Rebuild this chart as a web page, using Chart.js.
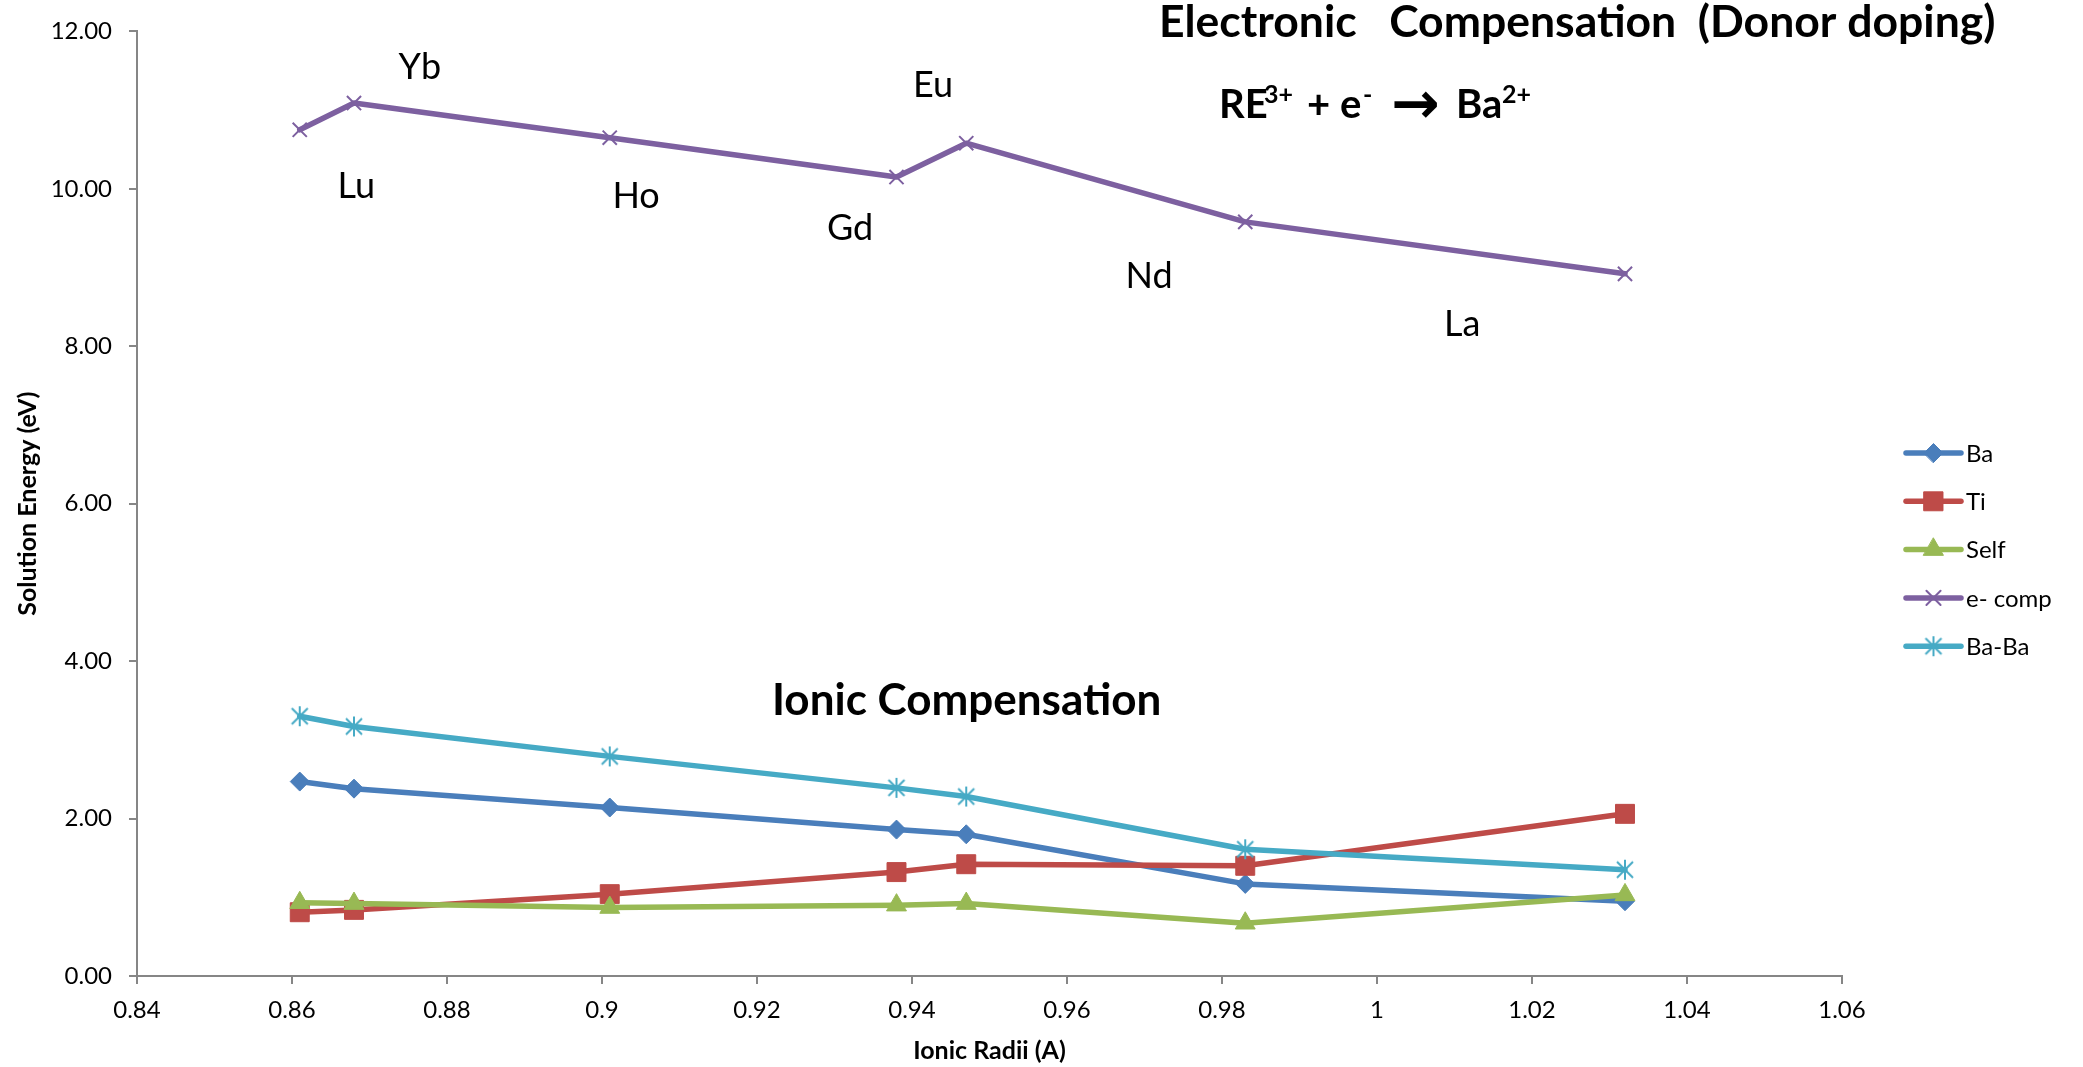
<!DOCTYPE html>
<html>
<head>
<meta charset="utf-8">
<title>Solution Energy x Ionic Radii</title>
<script src="https://cdn.jsdelivr.net/npm/chart.js@4.4.1/dist/chart.umd.min.js"></script>
<style>
    html, body { margin: 0; padding: 0; background: #ffffff; }
    #wrap { width: 2083px; height: 1067px; }
</style>
</head>
<body>
<div id="wrap"><canvas id="grafico" width="2083" height="1067"></canvas></div>
<script>
// ionic radii (A) of the rare earth dopants
var radii = [0.861, 0.868, 0.901, 0.938, 0.947, 0.983, 1.032];
var elementos = ['Lu', 'Yb', 'Ho', 'Gd', 'Eu', 'Nd', 'La'];

// solution energies (eV), one array per scheme
var ba = [2.47, 2.38, 2.14, 1.86, 1.80, 1.17, 0.95];
var ti = [0.81, 0.84, 1.04, 1.32, 1.42, 1.40, 2.06];
var selfComp = [0.93, 0.92, 0.87, 0.90, 0.92, 0.67, 1.03];
var eComp = [10.75, 11.09, 10.65, 10.15, 10.58, 9.58, 8.92];
var baBa = [3.30, 3.17, 2.79, 2.39, 2.28, 1.61, 1.35];

var xTicks = [0.84, 0.86, 0.88, 0.90, 0.92, 0.94, 0.96, 0.98, 1.00, 1.02, 1.04, 1.06];
var yTicks = [0, 2, 4, 6, 8, 10, 12];

// where each element name is written (data units)
var nomeX = [0.8683, 0.8765, 0.9044, 0.9320, 0.9427, 0.9706, 1.0110];
var nomeY = [10.03, 11.54, 9.91, 9.50, 11.32, 8.89, 8.28];

var FONTE = 'Lato, "DejaVu Sans", sans-serif';

function pontos(ys) {
    var ret = [];
    for (var i = 0; i < radii.length; i++) {
        ret.push({ x: radii[i], y: ys[i] });
    }
    return ret;
}

// excel style asterisk marker (vertical bar + X)
function estrela(cor, r, lw) {
    var c = document.createElement('canvas');
    var s = Math.ceil(2 * r + lw * 2);
    c.width = s;
    c.height = s;
    var g = c.getContext('2d');
    var m = s / 2, d = r * 0.8;
    g.strokeStyle = cor;
    g.lineWidth = lw;
    g.beginPath();
    g.moveTo(m, m - r); g.lineTo(m, m + r);
    g.moveTo(m - d, m - d); g.lineTo(m + d, m + d);
    g.moveTo(m - d, m + d); g.lineTo(m + d, m - d);
    g.stroke();
    return c;
}

function serie(nome, ys, cor, estilo, raio, bw, ordem) {
    return {
        label: nome,
        data: pontos(ys),
        showLine: true,
        borderColor: cor,
        backgroundColor: cor,
        borderWidth: 5.5,
        borderJoinStyle: 'round',
        borderCapStyle: 'round',
        pointStyle: estilo,
        pointRadius: raio,
        pointBackgroundColor: cor,
        pointBorderColor: cor,
        pointBorderWidth: bw,
        order: ordem
    };
}

var series = [
    serie('Ba', ba, '#4a7ebb', 'rectRot', 9.5, 1, 4),
    serie('Ti', ti, '#be4b48', 'rect', 13.4, 1, 3),
    serie('Self', selfComp, '#98b954', 'triangle', 11.5, 1, 2),
    serie('e- comp', eComp, '#7d60a0', 'crossRot', 10, 2, 1),
    serie('Ba-Ba', baBa, '#46aac5', estrela('#46aac5', 10, 2), 10, 2, 0)
];

function marcador(ctx, ds, x, y) {
    ctx.save();
    ctx.fillStyle = ds.pointBackgroundColor;
    ctx.strokeStyle = ds.pointBorderColor;
    ctx.lineWidth = ds.pointBorderWidth;
    Chart.helpers.drawPoint(ctx, {
        pointStyle: ds.pointStyle,
        rotation: 0,
        radius: ds.pointRadius,
        borderWidth: ds.pointBorderWidth
    }, x, y);
    ctx.restore();
}

// each piece of the reaction sits at its own x, superscripts raised
function formula(ctx, y, partes) {
    for (var i = 0; i < partes.length; i++) {
        var p = partes[i];
        var py = y;
        if (p.seta) {
            ctx.font = 'bold 58px "DejaVu Sans", sans-serif';
            py = y + 5;
        } else if (p.sup) {
            ctx.font = 'bold 25px ' + FONTE;
            py = y - 15;
        } else {
            ctx.font = 'bold 40px ' + FONTE;
        }
        ctx.fillText(p.t, p.x, py);
    }
}

var textos = {
    id: 'textos',
    afterDraw: function(chart) {
        var ctx = chart.ctx;
        var sx = chart.scales.x, sy = chart.scales.y;
        ctx.save();
        ctx.fillStyle = '#000000';

        // element names along the e- comp line
        ctx.font = '36px ' + FONTE;
        ctx.textAlign = 'center';
        ctx.textBaseline = 'middle';
        for (var i = 0; i < elementos.length; i++) {
            ctx.fillText(elementos[i], sx.getPixelForValue(nomeX[i]), sy.getPixelForValue(nomeY[i]));
        }

        ctx.textAlign = 'left';
        ctx.textBaseline = 'alphabetic';
        ctx.font = 'bold 44.5px ' + FONTE;
        ctx.fillText('Electronic   Compensation  (Donor doping)', 1159, 37);
        ctx.font = 'bold 44px ' + FONTE;
        ctx.fillText('Ionic Compensation', 772, 715);

        formula(ctx, 118, [
            { t: 'RE', x: 1219 }, { t: '3+', x: 1264, sup: true }, { t: '+', x: 1307 },
            { t: 'e', x: 1340 }, { t: '-', x: 1363, sup: true }, { t: '\u2192', x: 1391, seta: true },
            { t: 'Ba', x: 1456 }, { t: '2+', x: 1502, sup: true }
        ]);

        // legend: line sample + marker + name
        ctx.font = '24px ' + FONTE;
        ctx.textBaseline = 'middle';
        var ds = chart.data.datasets;
        for (var j = 0; j < ds.length; j++) {
            var ly = 453 + j * 48.3;
            ctx.strokeStyle = ds[j].borderColor;
            ctx.lineWidth = 5.5;
            ctx.lineCap = 'round';
            ctx.beginPath();
            ctx.moveTo(1906, ly);
            ctx.lineTo(1961, ly);
            ctx.stroke();
            marcador(ctx, ds[j], 1933.5, ly);
            ctx.fillStyle = '#000000';
            ctx.fillText(ds[j].label, 1966, ly + 1);
        }
        ctx.restore();
    }
};

var eixo = '#868686';

new Chart(document.getElementById('grafico').getContext('2d'), {
    type: 'scatter',
    data: { datasets: series },
    options: {
        responsive: false,
        animation: false,
        devicePixelRatio: 1,
        layout: { padding: { left: 0, top: 30, right: 241, bottom: 0 } },
        plugins: {
            legend: { display: false },
            tooltip: { enabled: false }
        },
        scales: {
            x: {
                type: 'linear',
                min: 0.84,
                max: 1.06,
                afterBuildTicks: function(s) {
                    s.ticks = xTicks.map(function(v) { return { value: v }; });
                },
                afterFit: function(s) { s.height = 91; },
                border: { display: true, color: eixo, width: 2 },
                grid: { drawOnChartArea: false, drawTicks: true, tickLength: 8, color: eixo, lineWidth: 2 },
                ticks: {
                    padding: 12,
                    color: '#000000',
                    font: { family: FONTE, size: 24 },
                    maxRotation: 0,
                    callback: function(v) { return String(Number(Number(v).toFixed(2))); }
                },
                title: {
                    display: true,
                    text: 'Ionic Radii (A)',
                    color: '#000000',
                    font: { family: FONTE, size: 25, weight: 'bold' },
                    padding: { top: 0, bottom: 1 }
                }
            },
            y: {
                min: 0,
                max: 12,
                afterBuildTicks: function(s) {
                    s.ticks = yTicks.map(function(v) { return { value: v }; });
                },
                afterFit: function(s) { s.width = 137; },
                border: { display: true, color: eixo, width: 2 },
                grid: { drawOnChartArea: false, drawTicks: true, tickLength: 8, color: eixo, lineWidth: 2 },
                ticks: {
                    padding: 17,
                    color: '#000000',
                    font: { family: FONTE, size: 24 },
                    callback: function(v) { return Number(v).toFixed(2); }
                },
                title: {
                    display: true,
                    text: 'Solution Energy (eV)',
                    color: '#000000',
                    font: { family: FONTE, size: 25, weight: 'bold' },
                    padding: { top: 13, bottom: 0 }
                }
            }
        }
    },
    plugins: [textos]
});
</script>
</body>
</html>
